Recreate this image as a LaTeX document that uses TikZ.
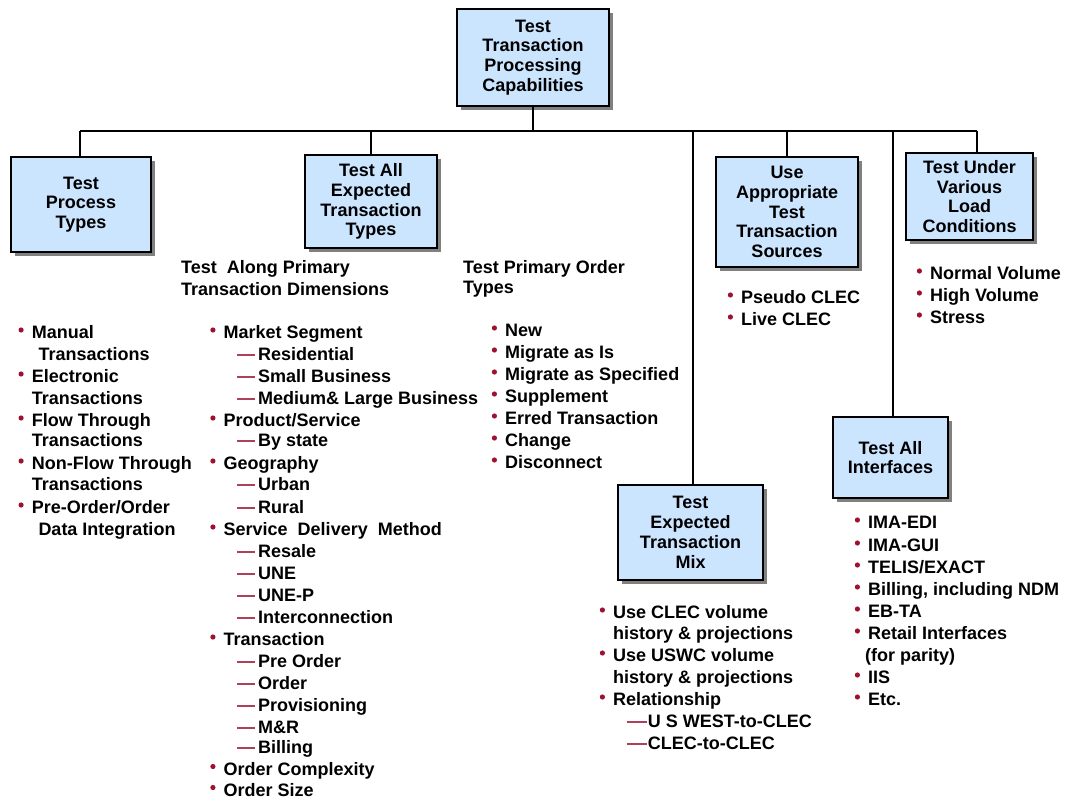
\documentclass[tikz,border=0pt]{standalone}
\usepackage{fontspec}
\setmainfont{Liberation Sans}
\usetikzlibrary{shadows}
\definecolor{boxblue}{RGB}{204,229,255}
\definecolor{bulred}{RGB}{160,16,48}
\definecolor{dashred}{RGB}{176,64,90}
\definecolor{shadowgray}{RGB}{128,128,128}
\tikzset{
  lt/.style={anchor=base west, inner sep=0pt, font=\fontsize{18}{20}\selectfont\bfseries},
  box/.style={draw, line width=1.8pt, fill=boxblue, align=center, inner sep=0pt,
    font=\fontsize{18}{19.8}\selectfont\bfseries,
    drop shadow={shadow xshift=4pt, shadow yshift=-4pt, fill=shadowgray, opacity=1}},
  conn/.style={line width=1.8pt},
  dashline/.style={draw=dashred, line width=1.6pt},
}
\newcommand\LBul[4]{\fill[bulred] (#2-10.6,#3-2) circle (2.6);
  \node[lt] (#1) at (#2,#3+6.5) {#4};}
\newcommand\LDash[5]{\draw[dashline] (#2-21,#3+1) -- (#2-#5,#3+1);
  \node[lt] (#1) at (#2,#3+6.5) {#4};}
\newcommand\LPlain[4]{\node[lt] (#1) at (#2,#3+6.5) {#4};}
\begin{document}
\begin{tikzpicture}[x=1pt,y=-1pt]
\useasboundingbox (0,0) rectangle (1067,799);
% boxes
\node[box, minimum width=152pt, minimum height=97pt] (top) at (533,57.5) {Test\\Transaction\\Processing\\Capabilities};
\node[box, minimum width=140pt, minimum height=95pt] (b1) at (81,204.5) {Test\\Process\\Types};
\node[box, minimum width=132pt, minimum height=93pt] (b2) at (371,201.5) {Test All\\Expected\\Transaction\\Types};
\node[box, minimum width=142pt, minimum height=110pt] (b3) at (787,212) {Use\\Appropriate\\Test\\Transaction\\Sources};
\node[box, minimum width=127pt, minimum height=87pt] (b4) at (969.5,196.5) {Test Under\\Various\\Load\\Conditions};
\node[box, minimum width=145pt, minimum height=95pt] (b5) at (690.5,532.5) {Test\\Expected\\Transaction\\Mix};
\node[box, minimum width=115pt, minimum height=81pt] (b6) at (890.5,457.5) {Test All\\Interfaces};
% connectors
\coordinate (busL) at (80,131);
\coordinate (busR) at (977,131);
\coordinate (j2) at (371,131);
\coordinate (j5) at (693,131);
\coordinate (j3) at (787,131);
\coordinate (j6) at (893,131);
\draw[conn] (top.south) -- (top.south |- busL);
\draw[conn] (busL) -- (busR);
\draw[conn] (busL) -- (busL |- b1.north);
\draw[conn] (j2) -- (j2 |- b2.north);
\draw[conn] (j5) -- (j5 |- b5.north);
\draw[conn] (j3) -- (j3 |- b3.north);
\draw[conn] (j6) -- (j6 |- b6.north);
\draw[conn] (busR) -- (busR |- b4.north);
% column 1
\LBul{c1a}{31.7}{332}{Manual}
\LPlain{c1b}{38.3}{354}{Transactions}
\LBul{c1c}{31.7}{376}{Electronic}
\LPlain{c1d}{31.7}{398}{Transactions}
\LBul{c1e}{31.7}{420}{Flow Through}
\LPlain{c1f}{31.7}{440}{Transactions}
\LBul{c1g}{31.7}{463}{Non-Flow Through}
\LPlain{c1h}{31.7}{484}{Transactions}
\LBul{c1i}{31.7}{507}{Pre-Order/Order}
\LPlain{c1j}{38.3}{529}{Data Integration}
% column 2
\LPlain{h2a}{181}{267}{Test\ \ Along Primary}
\LPlain{h2b}{181}{289}{Transaction Dimensions}
\LBul{c2a}{223.5}{332}{Market Segment}
\LDash{c2b}{258}{354}{Residential}{3}
\LDash{c2c}{258}{376}{Small Business}{3}
\LDash{c2d}{258}{398}{Medium\& Large Business}{3}
\LBul{c2e}{223.5}{420}{Product/Service}
\LDash{c2f}{258}{440}{By state}{3}
\LBul{c2g}{223.5}{463}{Geography}
\LDash{c2h}{258}{484}{Urban}{3}
\LDash{c2i}{258}{507}{Rural}{3}
\LBul{c2j}{223.5}{529}{Service\ \ Delivery\ \ Method}
\LDash{c2k}{258}{551}{Resale}{3}
\LDash{c2l}{258}{573}{UNE}{3}
\LDash{c2m}{258}{595}{UNE-P}{3}
\LDash{c2n}{258}{617}{Interconnection}{3}
\LBul{c2o}{223.5}{639}{Transaction}
\LDash{c2p}{258}{661}{Pre Order}{3}
\LDash{c2q}{258}{683}{Order}{3}
\LDash{c2r}{258}{705}{Provisioning}{3}
\LDash{c2s}{258}{727}{M\&R}{3}
\LDash{c2t}{258}{747}{Billing}{3}
\LBul{c2u}{223.5}{768.5}{Order Complexity}
\LBul{c2v}{223.5}{789.5}{Order Size}
% column 3
\LPlain{h3a}{463}{267}{Test Primary Order}
\LPlain{h3b}{463}{287}{Types}
\LBul{c3a}{505}{330}{New}
\LBul{c3b}{505}{352}{Migrate as Is}
\LBul{c3c}{505}{374}{Migrate as Specified}
\LBul{c3d}{505}{396}{Supplement}
\LBul{c3e}{505}{418}{Erred Transaction}
\LBul{c3f}{505}{440}{Change}
\LBul{c3g}{505}{462}{Disconnect}
% sources
\LBul{c4a}{741}{297}{Pseudo CLEC}
\LBul{c4b}{741}{319}{Live CLEC}
% load
\LBul{c5a}{930}{273}{Normal Volume}
\LBul{c5b}{930}{295}{High Volume}
\LBul{c5c}{930}{317}{Stress}
% mix
\LBul{c6a}{613}{612}{Use CLEC volume}
\LPlain{c6b}{613}{633}{history \& projections}
\LBul{c6c}{613}{655}{Use USWC volume}
\LPlain{c6d}{613}{677}{history \& projections}
\LBul{c6e}{613}{699}{Relationship}
\LDash{c6f}{647.7}{721}{U S WEST-to-CLEC}{1}
\LDash{c6g}{647.7}{743}{CLEC-to-CLEC}{1}
% interfaces
\LBul{c7a}{868}{522}{IMA-EDI}
\LBul{c7b}{868}{545}{IMA-GUI}
\LBul{c7c}{868}{567}{TELIS/EXACT}
\LBul{c7d}{868}{589}{Billing, including NDM}
\LBul{c7e}{868}{611}{EB-TA}
\LBul{c7f}{868}{633}{Retail Interfaces}
\LPlain{c7g}{865}{655}{(for parity)}
\LBul{c7h}{868}{677}{IIS}
\LBul{c7i}{868}{699}{Etc.}
\end{tikzpicture}
\end{document}
